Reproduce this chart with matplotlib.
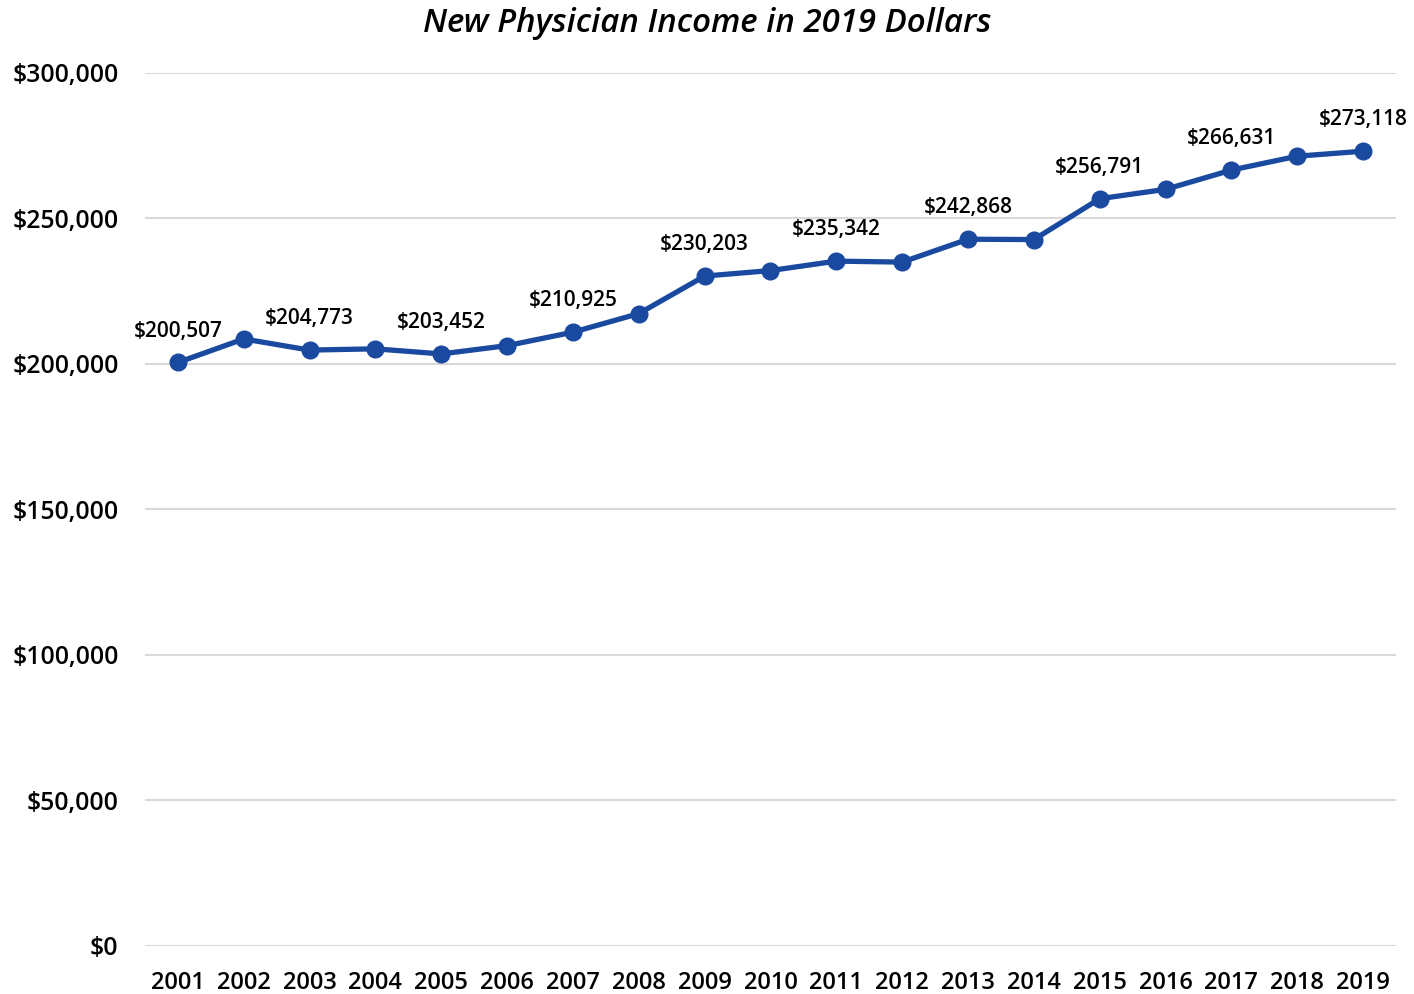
import matplotlib.pyplot as plt
from matplotlib.ticker import FuncFormatter

years = [str(y) for y in range(2001, 2020)]
income = [200507, 208600, 204773, 205200, 203452, 206300, 210925, 217300,
          230203, 232100, 235342, 235000, 242868, 242750, 256791, 260000,
          266631, 271400, 273118]
# which points carry a value label
labeled = ["2001", "2003", "2005", "2007", "2009", "2011", "2013", "2015", "2017", "2019"]

plt.rcParams['font.family'] = ['Open Sans', 'DejaVu Sans']

fig = plt.figure(figsize=(14.14, 9.94), dpi=100)
ax = fig.add_axes([0.1025, 0.0483, 0.8848, 0.8783])

x = list(range(len(years)))
ax.plot(x, income, color='#1a4aa0', linewidth=3.8, marker='o', markersize=12,
        solid_capstyle='round', zorder=3)

for i, (yr, val) in enumerate(zip(years, income)):
    if yr in labeled:
        ax.annotate(f"${val:,}", (i, val), xytext=(0, 22.5), textcoords='offset points',
                    ha='center', va='center', fontsize=15, fontweight='semibold',
                    color='black')

ax.set_xlim(-0.5, len(years) - 0.5)
ax.set_ylim(0, 300000)
ax.set_yticks(range(0, 300001, 50000))
ax.yaxis.set_major_formatter(FuncFormatter(lambda v, p: f"${int(v):,}"))
ax.set_xticks(x)
ax.set_xticklabels(years)

ax.grid(axis='y', color='#d9d9d9', linewidth=1.5)
ax.set_axisbelow(True)
for s in ax.spines.values():
    s.set_visible(False)
ax.tick_params(axis='both', length=0, colors='black')
ax.tick_params(axis='x', labelsize=17, pad=18)
ax.tick_params(axis='y', labelsize=17.8, pad=19)
for lbl in ax.get_xticklabels() + ax.get_yticklabels():
    lbl.set_fontweight('semibold')

fig.text(0.5, 0.976, "New Physician Income in 2019 Dollars", ha='center', va='center',
         fontsize=23.8, style='italic', fontweight='semibold')

fig.savefig("out.png", dpi=100)
